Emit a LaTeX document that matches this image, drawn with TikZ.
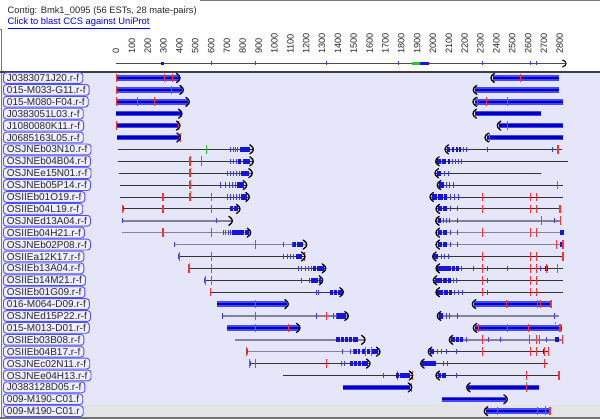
\documentclass[tikz,border=0pt]{standalone}
\usepackage{fontspec}
\setmainfont{Liberation Sans}
\definecolor{lav}{RGB}{230,230,250}
\definecolor{lastrow}{RGB}{228,228,230}
\definecolor{lblblue}{RGB}{80,80,255}
\definecolor{lblfill}{RGB}{238,238,252}
\definecolor{txtgray}{RGB}{40,40,40}
\definecolor{linkblue}{RGB}{0,0,230}
\definecolor{barblue}{RGB}{70,70,255}
\definecolor{coreblue}{RGB}{0,0,190}
\definecolor{blkblue}{RGB}{20,20,220}
\definecolor{tickblue}{RGB}{60,60,240}
\definecolor{mmred}{RGB}{255,50,50}
\definecolor{mmgreen}{RGB}{40,200,40}
\definecolor{framegray}{RGB}{120,120,120}
\tikzset{
  lbl/.style={draw=lblblue, line width=0.9pt, rounded corners=3pt, fill=lblfill, text=txtgray,
    font=\fontsize{10}{11}\selectfont, inner xsep=3.5pt, inner ysep=0pt, minimum height=10.8pt, anchor=west},
  rlab/.style={rotate=90, anchor=west, inner sep=0pt, text=txtgray, font=\fontsize{9.2}{10}\selectfont},
  thickbar/.style={line width=5.5pt, draw=barblue},
  thickcore/.style={line width=2.4pt, draw=coreblue},
  thinbar/.style={line width=0.9pt, draw=black!80},
  graybar/.style={line width=1.6pt, draw={rgb,255:red,130;green,130;blue,150}},
  blkfill/.style={fill=blkblue},
  btick/.style={line width=1pt, draw=tickblue},
  redtick/.style={line width=0.9pt, draw=mmred},
  grncap/.style={line width=1pt, draw=mmgreen},
  chev/.style={line width=1.3pt, draw=black, line cap=round, line join=round}
}
\newcommand{\fwdhead}[1]{\draw[chev] ({#1-3.5},-4.5) .. controls ({#1-0.3},-2) .. (#1,0) .. controls ({#1-0.3},2) .. ({#1-3.5},4.5);}
\newcommand{\revhead}[1]{\draw[chev] ({#1+3.5},-4.5) .. controls ({#1+0.3},-2) .. (#1,0) .. controls ({#1+0.3},2) .. ({#1+3.5},4.5);}
\newcommand{\thickread}[2]{\draw[thickbar] (#1,0) -- (#2,0); \draw[thickcore] (#1,0) -- (#2,0);}
\newcommand{\thinread}[2]{\draw[thinbar] (#1,0) -- (#2,0);}
\newcommand{\grayread}[2]{\draw[graybar] (#1,0) -- (#2,0);}
\newcommand{\blocks}[1]{\foreach \a/\b in {#1} {\fill[blkfill] (\a,-2.6) rectangle (\b,2.6);}}
\newcommand{\bticks}[1]{\foreach \a in {#1} {\draw[btick] (\a,-2.6) -- (\a,2.6);}}
\newcommand{\reds}[1]{\foreach \a in {#1} {\draw[redtick] (\a,-4.3) -- (\a,4.3);}}
\newcommand{\Reds}[1]{\foreach \a in {#1} {\draw[redtick, line width=2pt] (\a,-4.3) -- (\a,4.3);}}
\newcommand{\greens}[1]{\foreach \a in {#1} {\draw[grncap] (\a,-5.5) -- (\a,-3.8);}}
\newcommand{\track}[2]{\begin{scope}[shift={(0,#1)}]#2\end{scope}}
\begin{document}
\begin{tikzpicture}[x=1pt, y=-1pt]
  \useasboundingbox (0,0) rectangle (600,419);
  \fill[white] (0,0) rectangle (600,72);
  \fill[lav] (1.5,72.5) rectangle (600,405.5);
  \fill[lastrow] (1.5,405.5) rectangle (600,416.8);
  \draw[framegray, line width=1pt] (200,1) -- (600,1);
  \draw[framegray, line width=1pt] (0,29.5) -- (1.5,29.5) -- (1.5,417);
  \draw[black!75, line width=1.2pt] (0,72) -- (600,72);
  \draw[black!55, line width=1.5pt] (0,417.8) -- (600,417.8);
  % header
  \node[anchor=west, inner sep=0pt, text=txtgray, font=\fontsize{9.35}{10}\selectfont] (title) at (7.5,11) {Contig: Bmk1\_0095 (56 ESTs, 28 mate-pairs)};
  \node[anchor=west, inner sep=0pt, text=linkblue, font=\fontsize{9.35}{10}\selectfont] (blast) at (7.5,23) {\underline{Click to blast CCS against UniProt}};
  % ruler
  \foreach \k in {0,...,28} {
    \pgfmathtruncatemacro\v{\k*100}
    \node[rlab] (t\k) at ({116+\k*15.85},54) {\v};
  }
  \draw[black!70, line width=0.9pt] (116,63.5) -- (565,63.5);
  \draw[chev, line width=1.1pt] (562.5,60) .. controls (565.8,61.8) .. (566,63.5) .. controls (565.8,65.2) .. (562.5,67);
  \foreach \a in {211,255,326.7,398,482,530,536} {\draw[btick] (\a,61.5) -- (\a,65.5);}
  \fill[blkblue] (161,61.8) rectangle (163.5,65.2);
  \fill[mmgreen] (412,61.8) rectangle (420,65.3);
  \fill[blkblue] (420,61.8) rectangle (429,65.3);
  % labels
  \foreach \n/\t in {1/J0383071J20.r-f, 2/015-M033-G11.r-f, 3/015-M080-F04.r-f, 4/J0383051L03.r-f,
      5/J1080080K11.r-f, 6/J0685163L05.r-f, 7/OSJNEb03N10.r-f, 8/OSJNEb04B04.r-f, 9/OSJNEe15N01.r-f,
      10/OSJNEb05P14.r-f, 11/OSIIEb01O19.r-f, 12/OSIIEb04L19.r-f, 13/OSJNEd13A04.r-f, 14/OSIIEb04H21.r-f,
      15/OSJNEb02P08.r-f, 16/OSIIEa12K17.r-f, 17/OSIIEb13A04.r-f, 18/OSIIEb14M21.r-f, 19/OSIIEb01G09.r-f,
      20/016-M064-D09.r-f, 21/OSJNEd15P22.r-f, 22/015-M013-D01.r-f, 23/OSIIEb03B08.r-f, 24/OSIIEb04B17.r-f,
      25/OSJNEc02N11.r-f, 26/OSJNEe04H13.r-f, 27/J0383128D05.r-f, 28/009-M190-C01.f, 29/009-M190-C01.r} {
    \node[lbl] (l\n) at (3,{78+(\n-1)*11.9}) {\t};
  }
  % reads
  \track{78.0}{\thickread{116}{178.5}\reds{116,164.7,172.3}\fwdhead{180}
    \thickread{492.5}{559.3}\reds{520.3}\revhead{491}}
  \track{89.9}{\thickread{116}{182}\reds{116,171}\fwdhead{183.3}
    \thickread{474.8}{559.3}\revhead{473.3}}
  \track{101.8}{\thickread{116}{188}\reds{116,137.7,154}\fwdhead{189.3}
    \thickread{474.5}{562.7}\reds{477.7,486.7,507.3}\revhead{473}}
  \track{113.7}{\thickread{116}{180.5}\fwdhead{182}
    \thickread{474.5}{540.7}\revhead{473}}
  \track{125.6}{\thickread{116}{178.5}\reds{116,178}\fwdhead{180}
    \thickread{498.8}{562.7}\reds{507.3}\revhead{497.3}}
  \track{137.5}{\thickread{117}{179}\reds{180}\fwdhead{180.3}
    \thickread{486.5}{562.7}\reds{489}\revhead{485}}
  \track{149.4}{\thinread{118.3}{253}\draw[grncap] (206.7,-4.3) -- (206.7,4.3);
    \bticks{230,233.3,235.7,237.7}\blocks{240/250}\greens{250}\fwdhead{253.3}
    \thinread{445}{561.7}\blocks{447/450,451.5/454,455.5/457.5,459/461}\bticks{463,466.5,487.7,552.3}
    \Reds{557.7}\revhead{445}}
  \track{161.3}{\thinread{118}{253}\Reds{190}\reds{201.7}\greens{190,201.7}
    \bticks{230,233,236}\blocks{238/241,243/250}\fwdhead{253.3}
    \thinread{435.7}{567.7}\blocks{437/441,442/446,447.5/450}\bticks{452,455,458,461.7}\revhead{435.7}}
  \track{173.2}{\thinread{119}{252}\Reds{190}\greens{190}
    \bticks{227,230,233,236,239}\blocks{241/249}\fwdhead{252.3}
    \thinread{435}{540.7}\blocks{437/441}\bticks{444,448.3}\revhead{435}}
  \track{185.1}{\thinread{120}{246.5}\Reds{190}\greens{190}
    \bticks{220,225,229,232,235}\blocks{237/244}\fwdhead{246.7}
    \thinread{437.3}{563.3}\blocks{439/444}\bticks{446,449,453.3}\reds{557.3}\revhead{437.3}}
  \track{197.0}{\thinread{120}{249}\Reds{162.7,190}\greens{190}\reds{211}
    \bticks{227,230,233,236,239}\blocks{241/247}\fwdhead{249.3}
    \thinread{430}{562.7}\blocks{432/437,438/443,444/447}\bticks{450,454,458.3}\reds{482.7,530,536}\revhead{430}}
  \track{208.9}{\thinread{121.7}{239.5}\bticks{123}\reds{122.7}\Reds{162.7}\reds{211}
    \blocks{230/233,234/238}\fwdhead{240}
    \thinread{436}{560}\blocks{438/442,443/447}\bticks{450,457.3}\reds{482.7,530,536}\Reds{560}\revhead{436}}
  \track{220.8}{\grayread{122}{232}\bticks{122.5,216.7}\fwdhead{232.3}
    \grayread{435.7}{561}\blocks{438/441}\bticks{443,446,449,457.3,541.7,554}\reds{541.7,560}\revhead{435.7}}
  \track{232.7}{\grayread{121.7}{250.5}\Reds{162.7}\reds{211}
    \bticks{223,225.5,228,230}\blocks{232/244,245/249}\fwdhead{250.7}
    \grayread{436}{562}\blocks{438/442,443/447,560/564}\bticks{450,457.3}\reds{482.7,530,536}\revhead{436}}
  \track{244.6}{\grayread{174}{306.5}\bticks{174.5,283.3,292}\reds{255}\blocks{293/296,297/303}\fwdhead{306.7}
    \grayread{436}{563}\blocks{438/442,443/447,560/564}\bticks{450,457.3,556.7}\reds{556.7}\Reds{563}\revhead{436}}
  \track{256.5}{\thinread{178}{304.8}\bticks{178.5}\reds{179,211,304}
    \bticks{283.3,287,290,293.3}\blocks{296/302}\fwdhead{305}
    \thinread{432.7}{562.7}\blocks{434/438}\bticks{441,444,448.3}\reds{482.7,530,536}\Reds{562.7}\revhead{432.7}}
  \track{268.4}{\thinread{189.3}{325.5}\Reds{189.3}\greens{189.3}\reds{211}
    \bticks{298,301,305,308,311}\blocks{313/316,317/324}\fwdhead{325.7}
    \thinread{436}{562.7}\blocks{437/451,452/455,456/459,545/548}\bticks{461.7,473.3,487.7,507.3,540,557.3}
    \reds{482.7,530,536,546.7,557.3}\revhead{436}}
  \track{280.3}{\thinread{204}{322.5}\bticks{204}\reds{205,211}
    \bticks{301.7,309}\blocks{311/318,319/321}\fwdhead{322.7}
    \thinread{433.3}{562.7}\blocks{435/442,443/447,448/451}\bticks{453.3,456.7,487.7}\reds{482.7,530,536}\revhead{433.3}}
  \track{292.2}{\thinread{210.7}{343}\reds{210.7}\bticks{316.7,318.3}\blocks{330/333,334/337,338/342}\fwdhead{343.3}
    \thinread{436}{562.7}\blocks{437/443,444/448,449/452}\bticks{454.5,458,462.3,487.7}\reds{482.7,530,536}\revhead{436}}
  \track{304.1}{\thickread{216.7}{287}\reds{255}\fwdhead{288.3}
    \thickread{473.8}{551.7}\reds{506,537.3,540.7}\Reds{550.7}\revhead{472.3}}
  \track{316.0}{\grayread{221.7}{348}\bticks{222,316,333.3,336}\reds{255,326.7}\blocks{337/346}\fwdhead{348.3}
    \grayread{437.3}{559.3}\blocks{439/443}\bticks{446,449,457.3,554}\revhead{437.3}}
  \track{327.9}{\thickread{226.7}{298.5}\reds{255,288.3}\fwdhead{300}
    \thickread{474.8}{561.7}\reds{478.3,507.3,528.3}\Reds{560}\greens{555}\revhead{473.3}}
  \track{339.8}{\grayread{235}{364.8}\blocks{336/340,341/344,345/348,349/352,353/358.3}\fwdhead{365}
    \grayread{449.3}{563}\blocks{451/455,456/459,460/463,555/559}\bticks{466.7,488.3,500,529.3,546}
    \reds{482.7,529.3,536,539.3,562.7}\revhead{449.3}}
  \track{351.7}{\grayread{246.7}{379.8}\bticks{247,342.7,350,353}\reds{246.7}
    \blocks{354/357,358/360,362/365,367/370,372/378}\reds{365,371}\fwdhead{380}
    \thinread{428.3}{549.3}\blocks{430/434,543/545}\bticks{437,441,446.7,456.7}\reds{482.7,530,536,544,548.3}\revhead{428.3}}
  \track{363.6}{\thinread{249.3}{369.8}\bticks{250,341.7,344}\reds{249.3,255,326.7}
    \blocks{350/353,354/357,358/361,362/368}\fwdhead{370}
    \thinread{420.7}{548.3}\blocks{422/436}\bticks{443.3,447.3,544}\reds{544}\revhead{420.7}}
  \track{375.5}{\thinread{282.7}{412.5}\bticks{383.3}\reds{397.7,412.5}\blocks{396/399,400/410}\fwdhead{412.7}
    \thinread{436}{559.3}\blocks{438/441,442/446}\bticks{456.7}\reds{526}\Reds{559.3}\revhead{436}}
  \track{387.4}{\thickread{342.7}{410.3}\reds{411.7}\fwdhead{411.7}
    \thickread{468.2}{539.3}\reds{526}\greens{526}\revhead{466.7}}
  \track{399.3}{\thickread{441.7}{506}\fwdhead{507.3}}
  \track{411.2}{\thickread{485.8}{550}\reds{497.3,537.3,545}\Reds{550}\greens{545}\revhead{484.3}}
\end{tikzpicture}
\end{document}
